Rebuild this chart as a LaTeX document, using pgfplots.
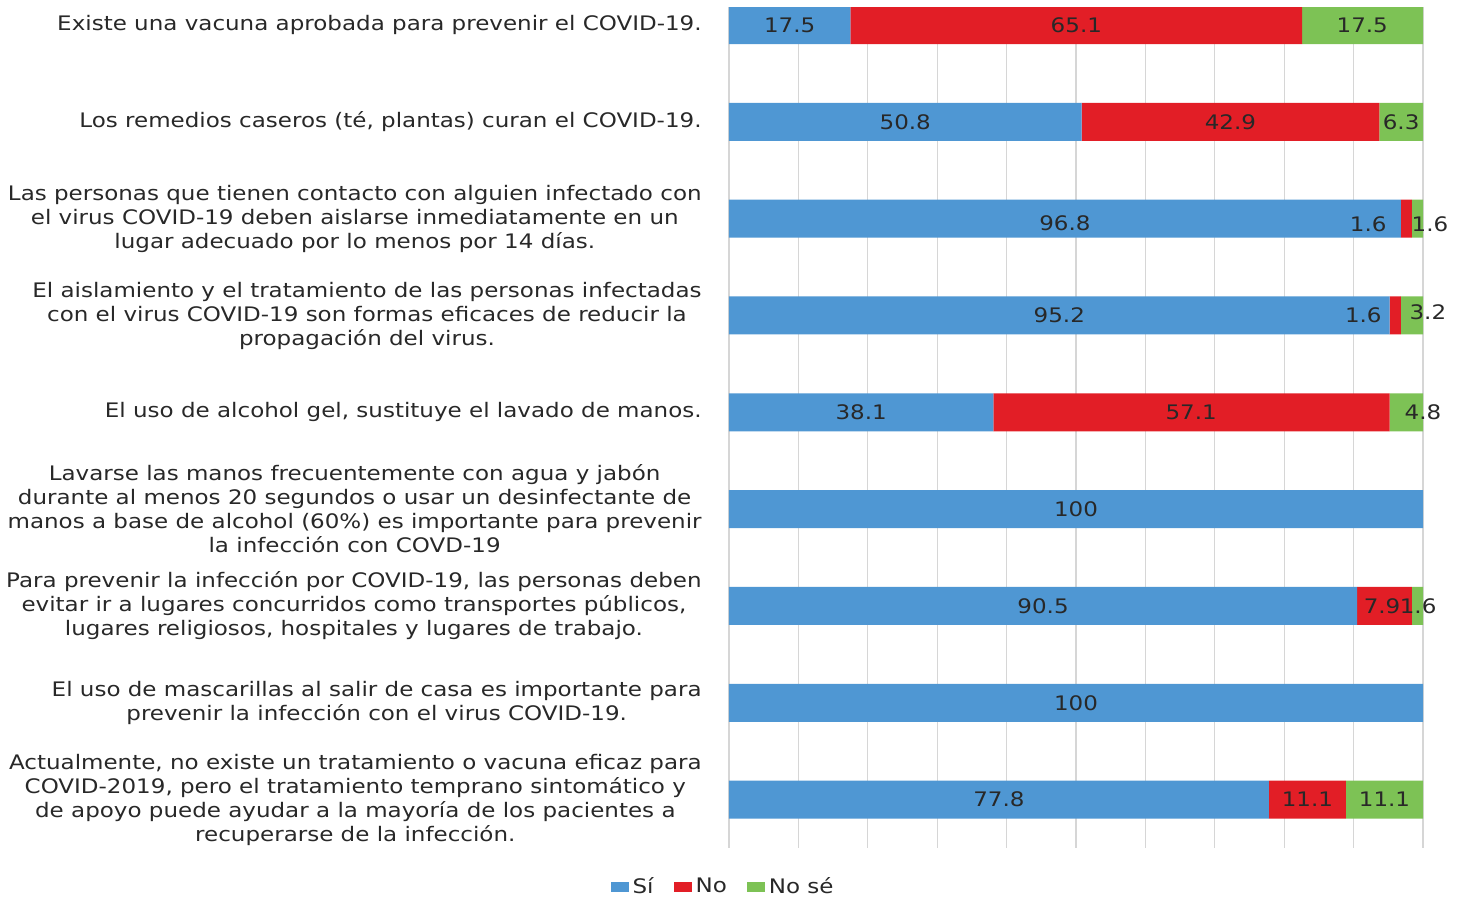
\documentclass[border=0pt]{standalone}
\usepackage{pgfplots}
\pgfplotsset{compat=1.18}
\usepackage{fontspec}
\setmainfont{DejaVu Sans}[FakeStretch=1.15]
\definecolor{cSi}{RGB}{79,151,211}
\definecolor{cNo}{RGB}{226,30,38}
\definecolor{cNs}{RGB}{125,194,85}
\definecolor{txt}{RGB}{40,40,40}
\begin{document}
\begin{tikzpicture}
\useasboundingbox (-364.5pt,-24pt) rectangle (365.5pt,424pt);
\begin{axis}[
  at={(0,0)}, anchor=south west,
  scale only axis, width=347pt, height=420.5pt,
  xbar stacked, bar width=19pt,
  xmin=0, xmax=100, ymin=-0.186, ymax=8.5, y dir=reverse,
  ytick={0,...,8},
  yticklabels={
    {Existe una vacuna aprobada para prevenir el COVID-19.},
    {Los remedios caseros (té, plantas) curan el COVID-19.},
    {Las personas que tienen contacto con alguien infectado con\\el virus COVID-19 deben aislarse inmediatamente en un\\lugar adecuado por lo menos por 14 días.},
    {El aislamiento y el tratamiento de las personas infectadas\\con el virus COVID-19 son formas eficaces de reducir la\\propagación del virus.},
    {El uso de alcohol gel, sustituye el lavado de manos.},
    {Lavarse las manos frecuentemente con agua y jabón\\durante al menos 20 segundos o usar un desinfectante de\\manos a base de alcohol (60\%) es importante para prevenir\\la infección con COVD-19},
    {Para prevenir la infección por COVID-19, las personas deben\\evitar ir a lugares concurridos como transportes públicos,\\lugares religiosos, hospitales y lugares de trabajo.},
    {El uso de mascarillas al salir de casa es importante para\\prevenir la infección con el virus COVID-19.},
    {Actualmente, no existe un tratamiento o vacuna eficaz para\\COVID-2019, pero el tratamiento temprano sintomático y\\de apoyo puede ayudar a la mayoría de los pacientes a\\recuperarse de la infección.}
  },
  yticklabel style={align=center, font=\fontsize{10}{12}\selectfont, text=txt, inner sep=0pt, xshift=-13.5pt},
  xtick={0,10,...,100}, xticklabels={},
  xmajorgrids, grid style={draw=black!16, line width=0.6pt},
  axis line style={draw=none}, major tick length=0pt,
  legend style={at={(axis description cs:-0.007,-0.046)}, anchor=center,
    legend columns=-1, draw=none, fill=none, font=\fontsize{10}{12}\selectfont, text=txt,
    /tikz/every even column/.append style={column sep=8pt}},
  legend image code/.code={\fill[#1] (0pt,-2.6pt) rectangle (9pt,2.6pt);},
]
\addplot[fill=cSi, draw=none] coordinates {(17.5,0) (50.8,1) (96.8,2) (95.2,3) (38.1,4) (100,5) (90.5,6) (100,7) (77.8,8)};
\addplot[fill=cNo, draw=none] coordinates {(65.1,0) (42.9,1) (1.6,2) (1.6,3) (57.1,4) (0,5) (7.9,6) (0,7) (11.1,8)};
\addplot[fill=cNs, draw=none] coordinates {(17.5,0) (6.3,1) (1.6,2) (3.2,3) (4.8,4) (0,5) (1.6,6) (0,7) (11.1,8)};
\legend{Sí, No, No sé}
\end{axis}
\begin{axis}[
  at={(0,0)}, anchor=south west,
  scale only axis, width=347pt, height=420.5pt,
  xmin=0, xmax=100, ymin=-0.186, ymax=8.5, y dir=reverse,
  hide axis, clip=false,
  nodes near coords, point meta=explicit symbolic,
  every node near coord/.append style={anchor=center, font=\fontsize{10}{12}\selectfont, text=txt, inner sep=0pt},
]
\addplot[draw=none, mark=none] table[x=x, y=y, meta=lab] {
x y lab
8.75 0 17.5
50.05 0 65.1
91.25 0 17.5
25.4 1 50.8
72.25 1 42.9
96.85 1 6.3
48.4 2.05 96.8
92.1 2.06 1.6
101.0 2.06 1.6
47.6 3 95.2
91.4 3 1.6
100.7 2.97 3.2
19.05 4 38.1
66.6 4 57.1
100.0 4 4.8
50 5 100
45.25 6 90.5
94.1 6 7.9
99.3 6 1.6
50 7 100
38.9 8 77.8
83.35 8 11.1
94.45 8 11.1
};
\end{axis}
\end{tikzpicture}
\end{document}
